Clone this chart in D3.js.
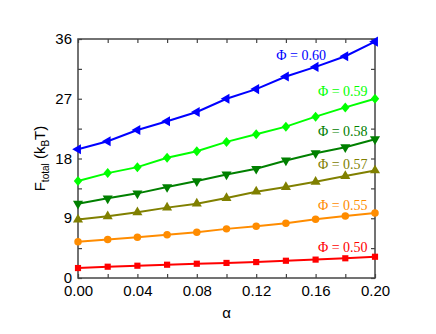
<!DOCTYPE html>
<html>
<head>
<meta charset="utf-8">
<script src="https://cdn.jsdelivr.net/npm/d3@7"></script>
<style>
    body { margin: 0; background: #fff; }
    svg { display: block; }
    .tick text { font-family: "Liberation Sans", Arial, sans-serif; font-size: 15px; fill: #000; }
</style>
</head>
<body>
<svg id="chart" width="436" height="334"></svg>
<script>
    // alpha values along the x axis
    var alphas = [0.00, 0.02, 0.04, 0.06, 0.08, 0.10, 0.12, 0.14, 0.16, 0.18, 0.20];

    // F_total (kBT) for each packing fraction
    var phi060 = [19.4, 20.6, 22.3, 23.6, 25.0, 27.0, 28.45, 30.35, 31.8, 33.4, 35.6];
    var phi059 = [14.6, 15.8, 16.7, 18.1, 19.1, 20.5, 21.65, 22.8, 24.3, 25.7, 27.0];
    var phi058 = [11.2, 12.0, 12.75, 13.7, 14.6, 15.6, 16.45, 17.7, 18.8, 19.7, 20.9];
    var phi057 = [8.8, 9.3, 9.9, 10.6, 11.2, 12.05, 13.0, 13.7, 14.5, 15.35, 16.2];
    var phi055 = [5.45, 5.8, 6.15, 6.5, 6.9, 7.4, 7.8, 8.25, 8.85, 9.35, 9.8];
    var phi050 = [1.5, 1.7, 1.85, 2.0, 2.15, 2.27, 2.4, 2.6, 2.77, 2.97, 3.2];

    var seriesNames = ["0.60", "0.59", "0.58", "0.57", "0.55", "0.50"];
    var seriesValues = [phi060, phi059, phi058, phi057, phi055, phi050];

    var xTicks = [0.00, 0.04, 0.08, 0.12, 0.16, 0.20];
    var yTicks = [0, 9, 18, 27, 36];

    // styling per series
    var colors = ["#0000ff", "#00ff00", "#008000", "#808000", "#ff8c00", "#ff0000"];
    var shapes = ["triLeft", "diamond", "triDown", "triUp", "circle", "square"];
    // label anchor (right end of text) in data coordinates
    var labelPos = [[0.167, 32.9], [0.195, 27.4], [0.195, 21.4], [0.195, 16.4], [0.195, 10.2], [0.195, 3.9]];

    var plotL = 78, plotR = 375, plotT = 39, plotB = 278;

    var svg = d3.select("#chart");

    var xScale = d3.scaleLinear().domain([0, 0.2]).range([plotL, plotR]);
    var yScale = d3.scaleLinear().domain([0, 36]).range([plotB, plotT]);

    var axisColor = "#444";

    // frame
    svg.append("rect")
        .attr("x", plotL).attr("y", plotT)
        .attr("width", plotR - plotL).attr("height", plotB - plotT)
        .attr("fill", "none").attr("stroke", axisColor).attr("stroke-width", 1.5);

    function styleAxis(g) {
        g.select(".domain").remove();
        g.selectAll(".tick line").attr("stroke", axisColor).attr("stroke-width", 1.2);
    }

    var minorX = d3.range(0, 0.2001, 0.02);
    var minorY = d3.range(0, 36.01, 4.5);

    // bottom axis with labels
    svg.append("g")
        .attr("transform", "translate(0," + plotB + ")")
        .call(d3.axisBottom(xScale).tickValues(xTicks).tickFormat(d3.format(".2f")).tickSize(0).tickPadding(7))
        .call(styleAxis);
    svg.append("g")
        .attr("transform", "translate(0," + plotB + ")")
        .call(d3.axisTop(xScale).tickValues(minorX).tickFormat("").tickSize(4))
        .call(styleAxis);
    svg.append("g")
        .attr("transform", "translate(0," + plotT + ")")
        .call(d3.axisBottom(xScale).tickValues(minorX).tickFormat("").tickSize(4))
        .call(styleAxis);

    // left axis with labels
    svg.append("g")
        .attr("transform", "translate(" + plotL + ",0)")
        .call(d3.axisLeft(yScale).tickValues(yTicks).tickSize(0).tickPadding(6))
        .call(styleAxis)
        .selectAll(".tick text").attr("dy", "0.3em");
    svg.append("g")
        .attr("transform", "translate(" + plotL + ",0)")
        .call(d3.axisRight(yScale).tickValues(minorY).tickFormat("").tickSize(4))
        .call(styleAxis);
    svg.append("g")
        .attr("transform", "translate(" + plotR + ",0)")
        .call(d3.axisLeft(yScale).tickValues(minorY).tickFormat("").tickSize(4))
        .call(styleAxis);

    var line = d3.line()
        .x(function (d, i) { return xScale(alphas[i]); })
        .y(function (d) { return yScale(d); });

    function markerPath(shape) {
        if (shape === "circle") return d3.symbol(d3.symbolCircle, 44)();
        if (shape === "square") return d3.symbol(d3.symbolSquare, 38)();
        if (shape === "diamond") return "M0,-5L4.2,0L0,5L-4.2,0Z";
        return d3.symbol(d3.symbolTriangle, 44)();
    }
    function markerRotate(shape) {
        if (shape === "triLeft") return -90;
        if (shape === "triDown") return 180;
        return 0;
    }

    seriesValues.forEach(function (vals, s) {
        var g = svg.append("g");
        g.append("path")
            .attr("d", line(vals))
            .attr("fill", "none")
            .attr("stroke", colors[s])
            .attr("stroke-width", 2);

        g.selectAll("path.mk")
            .data(vals)
            .enter()
            .append("path")
            .attr("class", "mk")
            .attr("d", markerPath(shapes[s]))
            .attr("transform", function (d, i) {
                return "translate(" + xScale(alphas[i]) + "," + yScale(d) + ") rotate(" + markerRotate(shapes[s]) + ")";
            })
            .attr("fill", colors[s]);

        svg.append("text")
            .attr("x", xScale(labelPos[s][0]))
            .attr("y", yScale(labelPos[s][1]))
            .attr("text-anchor", "end")
            .attr("font-family", "'Liberation Serif', 'Times New Roman', serif")
            .attr("font-size", 14)
            .attr("fill", colors[s])
            .text("\u03A6 = " + seriesNames[s]);
    });

    // axis titles
    svg.append("text")
        .attr("x", (plotL + plotR) / 2)
        .attr("y", 318)
        .attr("text-anchor", "middle")
        .attr("font-family", "'Liberation Sans', Arial, sans-serif")
        .attr("font-size", 15)
        .text("\u03B1");

    var yTitle = svg.append("text")
        .attr("transform", "translate(45," + ((plotT + plotB) / 2) + ") rotate(-90)")
        .attr("text-anchor", "middle")
        .attr("font-family", "'Liberation Sans', Arial, sans-serif")
        .attr("font-size", 15);
    yTitle.append("tspan").text("F");
    yTitle.append("tspan").attr("font-size", 10).attr("dy", 4).text("total");
    yTitle.append("tspan").attr("dy", -4).text(" (k");
    yTitle.append("tspan").attr("font-size", 10).attr("dy", 4).text("B");
    yTitle.append("tspan").attr("dy", -4).text("T)");
</script>
</body>
</html>
